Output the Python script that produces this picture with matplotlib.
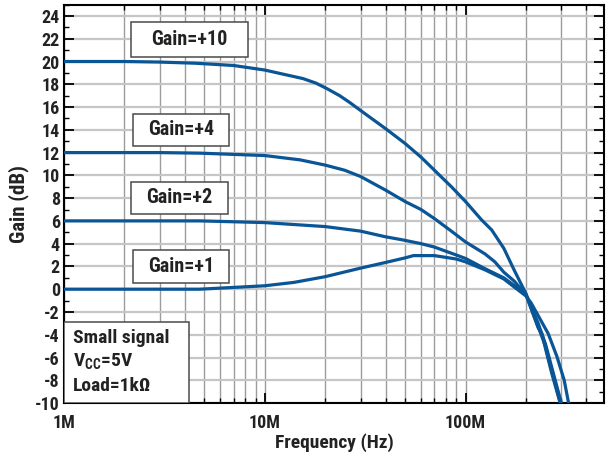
import matplotlib
matplotlib.use("Agg")
import matplotlib.pyplot as plt
from matplotlib import font_manager
from matplotlib.ticker import FixedLocator, NullFormatter, MultipleLocator
from matplotlib.patches import Rectangle

# pick a narrow bold sans if one is installed
installed = {(f.name, f.stretch) for f in font_manager.fontManager.ttflist}
names = {n for n, _ in installed}
stretch = 'normal'
if 'Liberation Sans Narrow' in names:
    family = 'Liberation Sans Narrow'
elif 'Roboto Condensed' in names:
    family = 'Roboto Condensed'
elif any(n == 'DejaVu Sans' and s in ('condensed', 'semi-condensed') for n, s in installed):
    family = 'DejaVu Sans'
    stretch = 'condensed'
else:
    family = 'Roboto'

plt.rcParams['font.family'] = [family, 'DejaVu Sans']
plt.rcParams['font.stretch'] = stretch
plt.rcParams['font.weight'] = 'bold'
plt.rcParams['axes.unicode_minus'] = False
plt.rcParams['mathtext.fontset'] = 'custom'
plt.rcParams['mathtext.bf'] = family + ':bold'
plt.rcParams['mathtext.rm'] = family + ':bold'

# frequency response, one pair of lists per closed-loop gain
freq_g10 = [1e6, 2e6, 3e6, 4.5e6, 7e6, 10e6, 13e6, 15.5e6, 18e6, 20.5e6, 23.6e6,
            26.5e6, 30e6, 40e6, 50e6, 60e6, 70e6, 85e6, 100e6, 120e6, 135e6, 155e6,
            175e6, 200e6, 230e6, 250e6, 268e6, 297e6, 310e6]
gain_g10 = [20.0, 20.0, 19.95, 19.85, 19.65, 19.25, 18.8, 18.5, 18.1, 17.6, 17.0,
            16.4, 15.7, 14.1, 12.8, 11.6, 10.45, 9.0, 7.7, 6.1, 5.2, 3.6,
            1.65, -0.4, -3.3, -5.0, -7.1, -10.0, -11.0]

freq_g4 = [1e6, 3e6, 4.75e6, 10e6, 15e6, 20e6, 25e6, 30e6, 40e6, 50e6, 60e6, 70e6,
           85e6, 100e6, 125e6, 140e6, 155e6, 175e6, 200e6, 230e6, 240e6, 250e6,
           268e6, 297e6, 310e6]
gain_g4 = [12.0, 12.0, 11.95, 11.74, 11.36, 10.9, 10.45, 9.9, 8.7, 7.7, 7.0, 6.2,
           5.1, 4.15, 3.1, 2.4, 1.5, 0.7, -0.5, -3.4, -3.9, -5.2,
           -7.3, -10.1, -11.0]

freq_g2 = [1e6, 4.75e6, 10e6, 20e6, 30e6, 40e6, 48e6, 60e6, 70e6, 90e6, 100e6,
           125e6, 155e6, 200e6, 230e6, 250e6, 270e6, 300e6, 315e6]
gain_g2 = [6.0, 6.0, 5.85, 5.5, 5.1, 4.6, 4.35, 4.0, 3.7, 3.0, 2.7,
           1.8, 1.0, -0.45, -3.0, -4.8, -7.0, -10.0, -11.0]

freq_g1 = [1e6, 4.75e6, 6.9e6, 10e6, 14e6, 20e6, 30e6, 40e6, 50e6, 55e6, 70e6,
           90e6, 100e6, 125e6, 155e6, 200e6, 212e6, 258e6, 285e6, 310e6, 326e6, 335e6]
gain_g1 = [0.0, 0.0, 0.15, 0.3, 0.6, 1.1, 1.85, 2.35, 2.75, 2.95, 2.95,
           2.65, 2.4, 1.7, 0.9, -0.6, -1.2, -3.9, -5.9, -8.0, -10.0, -11.0]

x_ticks = [1e6, 1e7, 1e8]
x_tick_labels = ['1M', '10M', '100M']
curve_labels = ['Gain=+10', 'Gain=+4', 'Gain=+2', 'Gain=+1']
note_lines = ['Small signal', r'V$_{\mathbf{CC}}$=5V', 'Load=1k\u03A9']

blue = '#0a5596'
ink = '#222222'

fig = plt.figure(figsize=(6.09, 4.58), dpi=100)
ax = fig.add_axes([0.105, 0.12, 0.887, 0.870])

ax.set_xscale('log')
ax.set_xlim(1e6, 4.9e8)
ax.set_ylim(-10, 25)

for f, g in [(freq_g1, gain_g1), (freq_g2, gain_g2), (freq_g4, gain_g4), (freq_g10, gain_g10)]:
    ax.plot(f, g, color=blue, lw=2.3, solid_joinstyle='round', zorder=3)

# grid: darker verticals, lighter horizontals
minor_x = [m * d for d in (1e6, 1e7, 1e8) for m in range(2, 10) if m * d < 4.9e8]
ax.xaxis.set_major_locator(FixedLocator(x_ticks))
ax.xaxis.set_minor_locator(FixedLocator(minor_x))
ax.xaxis.set_minor_formatter(NullFormatter())
ax.set_xticklabels(x_tick_labels)
ax.yaxis.set_major_locator(MultipleLocator(2))
ax.yaxis.set_minor_locator(MultipleLocator(1))
ax.grid(True, axis='x', which='both', color='#9c9c9c', lw=1.0, zorder=0)
ax.grid(True, axis='y', which='major', color='#c6c6c6', lw=1.6, zorder=0)
ax.set_axisbelow(True)

ax.tick_params(which='both', direction='in', top=True, right=True, colors='black',
               labelsize=13)
ax.tick_params(which='major', length=7, width=1.3)
ax.tick_params(which='minor', length=3.5, width=1.0)
ax.tick_params(axis='x', pad=8)
ax.tick_params(axis='y', pad=3)
for lbl in ax.get_xticklabels() + ax.get_yticklabels():
    lbl.set_fontweight('bold')
    lbl.set_color(ink)
for s in ax.spines.values():
    s.set_linewidth(1.5)

ax.set_xlabel('Frequency (Hz)', fontsize=14, fontweight='bold', color=ink, labelpad=1)
ax.set_ylabel('Gain (dB)', fontsize=15, fontweight='bold', color=ink, labelpad=4)

# boxed curve labels, in axes fractions
label_boxes = [(0.124, 0.869, 0.217, 0.088),
               (0.128, 0.645, 0.178, 0.081),
               (0.124, 0.475, 0.180, 0.080),
               (0.128, 0.301, 0.178, 0.083)]
for text, (bx, by, bw, bh) in zip(curve_labels, label_boxes):
    ax.add_patch(Rectangle((bx, by), bw, bh, transform=ax.transAxes,
                           facecolor='white', edgecolor='#4a4a4a', lw=1.1, zorder=4))
    ax.text(bx + bw / 2, by + bh / 2, text, transform=ax.transAxes, ha='center',
            va='center', fontsize=14.5, fontweight='bold', color=ink, zorder=5)

# test conditions box
ax.add_patch(Rectangle((0.0, 0.0), 0.231, 0.204, transform=ax.transAxes,
                       facecolor='white', edgecolor='#4a4a4a', lw=1.1, zorder=4))
for i, line in enumerate(note_lines):
    ax.text(0.017, 0.163 - i * 0.060, line, transform=ax.transAxes, ha='left',
            va='center', fontsize=14, fontweight='bold', color=ink, zorder=5)

fig.savefig('out.png', dpi=100)
